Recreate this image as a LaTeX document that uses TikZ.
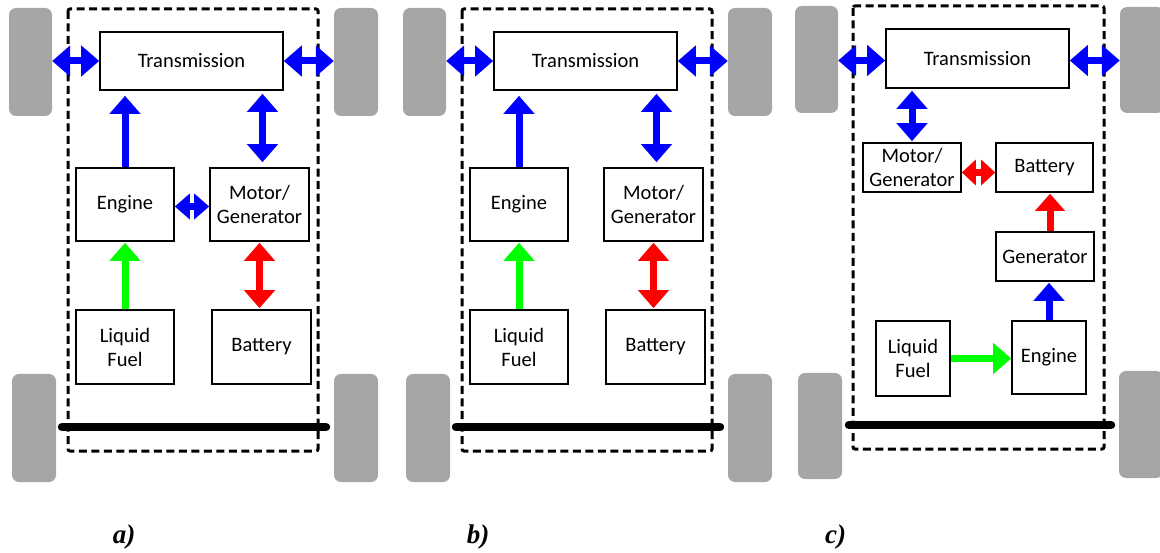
\documentclass[tikz,border=0pt]{standalone}
\usepackage{fontspec}
\setmainfont{Carlito}
\newfontfamily\labfont{Liberation Serif}
\usetikzlibrary{arrows.meta}
\definecolor{wheelgray}{RGB}{166,166,166}
\definecolor{arblue}{RGB}{0,0,255}
\definecolor{argreen}{RGB}{0,255,0}
\definecolor{arred}{RGB}{255,0,0}
\newcommand\hybridpanel[2]{%
  \begin{scope}[xshift=#2]
    \node[wheel, minimum width=43, minimum height=108] (#1wtl) at (30.5,62) {};
    \node[wheel, minimum width=44, minimum height=108] (#1wtr) at (356,62) {};
    \node[wheel, minimum width=44, minimum height=108] (#1wbl) at (34,428) {};
    \node[wheel, minimum width=44, minimum height=108] (#1wbr) at (356,428) {};
    \draw[frame] (68,9) rectangle (318,451);
    \coordinate (#1axl) at (62,427);
    \coordinate (#1axr) at (326,427);
    \draw[axle] (#1axl) -- (#1axr);
    \node[blk, minimum width=183, minimum height=58] (#1tr) at (191.5,61) {Transmission};
    \node[blk, minimum width=98, minimum height=73] (#1eng) at (125,204.5) {Engine};
    \node[blk, minimum width=99, minimum height=73] (#1mg) at (259.5,204.5) {Motor/\\Generator};
    \node[blk, minimum width=98, minimum height=74] (#1fuel) at (125,347) {Liquid\\Fuel};
    \node[blk, minimum width=99, minimum height=74] (#1bat) at (261.5,347) {Battery};
    \draw[dblue] (#1tr.west -| #1wtl.east) -- (#1tr.west);
    \draw[dblue] (#1tr.east) -- (#1tr.east -| #1wtr.west);
    \draw[sblue, shorten >=5pt] (#1eng.north) -- (#1eng.north |- #1tr.south);
    \draw[dblue, shorten >=3pt, shorten <=5pt] ([xshift=3pt]#1mg.north) -- ([xshift=3pt]#1mg.north |- #1tr.south);
    \draw[sgreen, shorten >=1pt] (#1fuel.north) -- (#1eng.south);
    \draw[dred, shorten >=1pt, shorten <=1pt] (#1mg.south) -- (#1mg.south |- #1bat.north);
  \end{scope}}
\begin{document}
\begin{tikzpicture}[x=1pt,y=-1pt,
  blk/.style={draw=black, line width=1.6pt, inner sep=0pt, align=center,
    font=\fontsize{20.5}{24}\selectfont},
  wheel/.style={fill=wheelgray, rounded corners=7pt, inner sep=0pt},
  frame/.style={line width=3pt, dash pattern=on 8pt off 4.5pt, rounded corners=2pt},
  axle/.style={line width=8.5pt, line cap=round},
  sblue/.style={draw=arblue, line width=7pt, -{Triangle[length=18pt,width=30pt,fill=arblue]}},
  dblue/.style={draw=arblue, line width=7pt, {Triangle[length=18pt,width=30pt,fill=arblue]}-{Triangle[length=18pt,width=30pt,fill=arblue]}},
  sgreen/.style={draw=argreen, line width=7pt, -{Triangle[length=18pt,width=30pt,fill=argreen]}},
  dred/.style={draw=arred, line width=7pt, {Triangle[length=18pt,width=30pt,fill=arred]}-{Triangle[length=18pt,width=30pt,fill=arred]}},
  sred/.style={draw=arred, line width=7pt, -{Triangle[length=17pt,width=29pt,fill=arred]}},
  smalldblue/.style={draw=arblue, line width=7pt, {Triangle[length=15pt,width=25pt,fill=arblue]}-{Triangle[length=15pt,width=25pt,fill=arblue]}},
  smalldred/.style={draw=arred, line width=7pt, {Triangle[length=14pt,width=25pt,fill=arred]}-{Triangle[length=14pt,width=25pt,fill=arred]}},
  lab/.style={font=\labfont\bfseries\itshape\fontsize{27}{30}\selectfont, inner sep=0pt}]
\useasboundingbox (0,0) rectangle (1160,553);
\hybridpanel{a}{0}
\draw[smalldblue] ([yshift=-2pt]aeng.east) -- ([yshift=-2pt]amg.west);
\hybridpanel{b}{394}
% panel c
\node[wheel, minimum width=43, minimum height=107] (cwtl) at (816.5,59.5) {};
\node[wheel, minimum width=44, minimum height=106] (cwtr) at (1142,60) {};
\node[wheel, minimum width=44, minimum height=106] (cwbl) at (820,426) {};
\node[wheel, minimum width=44, minimum height=107] (cwbr) at (1141,424.5) {};
\draw[frame] (853,6) rectangle (1104,449);
\coordinate (caxl) at (849,425);
\coordinate (caxr) at (1111,425);
\draw[axle] (caxl) -- (caxr);
\node[blk, minimum width=183, minimum height=59] (ctr) at (977.5,58.5) {Transmission};
\node[blk, minimum width=98, minimum height=49] (cmg) at (912,167.5) {Motor/\\Generator};
\node[blk, minimum width=97, minimum height=49] (cbat) at (1044.5,167.5) {Battery};
\node[blk, minimum width=98, minimum height=49] (cgen) at (1045,256.5) {Generator};
\node[blk, minimum width=74, minimum height=75] (cfuel) at (913,358.5) {Liquid\\Fuel};
\node[blk, minimum width=74, minimum height=73] (ceng) at (1049,357.5) {Engine};
\draw[dblue] ([yshift=-2pt]ctr.west -| cwtl.east) -- ([yshift=-2pt]ctr.west);
\draw[dblue] ([yshift=-2pt]ctr.east) -- ([yshift=-2pt]ctr.east -| cwtr.west);
\draw[dblue, shorten <=1pt, shorten >=2pt] (cmg.north) -- (cmg.north |- ctr.south);
\draw[smalldred] ([yshift=-5pt]cmg.east) -- ([yshift=-5pt]cmg.east -| cbat.west);
\draw[sred, shorten >=1pt] ([xshift=5pt]cgen.north) -- ([xshift=5pt]cgen.north |- cbat.south);
\draw[sblue, shorten >=1pt] (ceng.north) -- (ceng.north |- cgen.south);
\draw[sgreen] (cfuel.east) -- (cfuel.east -| ceng.west);
% labels
\node[lab] (la) at (124,537) {a)};
\node[lab] (lb) at (478,537) {b)};
\node[lab] (lc) at (835.5,537) {c)};
\end{tikzpicture}
\end{document}
